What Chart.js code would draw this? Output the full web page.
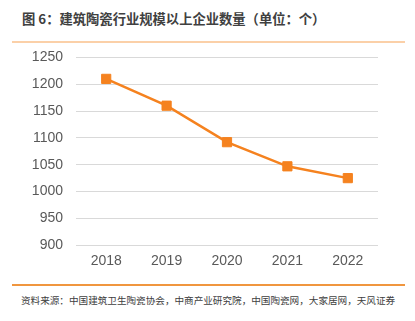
<!DOCTYPE html>
<html>
<head>
<meta charset="utf-8">
<script src="https://cdn.jsdelivr.net/npm/chart.js@4/dist/chart.umd.min.js"></script>
<style>
  html, body { margin: 0; padding: 0; background: #fff; width: 415px; height: 321px; overflow: hidden; position: relative; }
  #title { position: absolute; left: 22px; top: 10px; font-family: "Noto Sans CJK SC", sans-serif; font-size: 13.3px; font-weight: 700; color: #404040; white-space: nowrap; line-height: 18px; }
  #topline { position: absolute; left: 12px; top: 41px; width: 393px; height: 2px; background: #fbd0a8; }
  #botline { position: absolute; left: 12px; top: 284px; width: 393px; height: 1.5px; background: #f0963f; }
  #source { position: absolute; left: 21px; top: 287px; width: 378px; font-family: "Noto Sans CJK SC", sans-serif; font-size: 9.6px; color: #404040; line-height: 26px; }
  #wrap { position: absolute; left: 0; top: 36px; width: 400px; height: 234px; }
  canvas { display: block; }
</style>
</head>
<body>
<div id="title">图 6：建筑陶瓷行业规模以上企业数量（单位：个）</div>
<div id="topline"></div>
<div id="wrap"><canvas id="c" width="400" height="234"></canvas></div>
<div id="botline"></div>
<div id="source">资料来源：中国建筑卫生陶瓷协会，中商产业研究院，中国陶瓷网，大家居网，天风证券研究所</div>
<script>
const categories = ["2018", "2019", "2020", "2021", "2022"];
const enterpriseCount = [1210, 1160, 1092, 1047, 1025];
const yTicks = { min: 900, max: 1250, step: 50 };

new Chart(document.getElementById('c'), {
  type: 'line',
  data: {
    labels: categories,
    datasets: [{
      data: enterpriseCount,
      borderColor: '#f5821f',
      backgroundColor: '#f5821f',
      borderWidth: 2.5,
      pointStyle: 'rect',
      pointRadius: 6.5,
      pointBorderWidth: 1,
      pointBorderColor: '#f5821f',
      pointBackgroundColor: '#f5821f',
      tension: 0,
      fill: false
    }]
  },
  options: {
    responsive: false,
    animation: false,
    layout: { padding: { top: 3, right: 22, left: 0, bottom: 0 } },
    plugins: { legend: { display: false }, tooltip: { enabled: false } },
    scales: {
      x: {
        offset: true,
        grid: { display: false },
        border: { display: false },
        ticks: { color: '#595959', font: { family: 'Liberation Sans', size: 14 }, padding: 0 }
      },
      y: {
        min: yTicks.min,
        max: yTicks.max,
        afterFit: (s) => { s.width = 76; },
        grid: { color: '#d9d9d9', lineWidth: 1, drawTicks: false },
        border: { display: false },
        ticks: { stepSize: yTicks.step, color: '#595959', font: { family: 'Liberation Sans', size: 14 }, padding: 13, callback: (v) => String(v) }
      }
    }
  }
});
</script>
</body>
</html>
